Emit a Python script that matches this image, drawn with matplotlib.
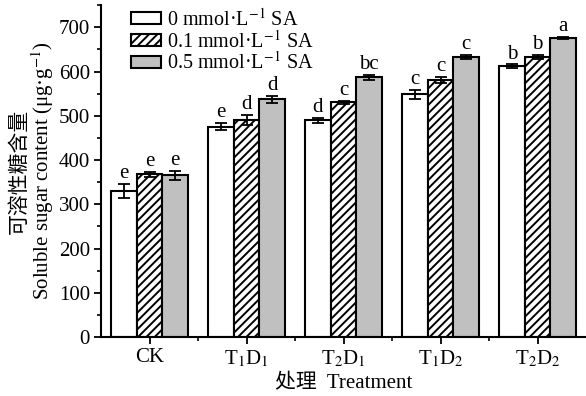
import numpy as np
import matplotlib.pyplot as plt

plt.rcParams['font.family'] = ['Liberation Serif', 'Noto Sans CJK SC']
plt.rcParams['mathtext.fontset'] = 'stix'
plt.rcParams['hatch.linewidth'] = 1.4

# 数据
groups = ["CK", "T$_1$D$_1$", "T$_2$D$_1$", "T$_1$D$_2$", "T$_2$D$_2$"]
series = ["0 mmol·L$^{-1}$ SA", "0.1 mmol·L$^{-1}$ SA", "0.5 mmol·L$^{-1}$ SA"]
sa0 = [330, 475, 490, 549, 612]
sa01 = [368, 490, 530, 580, 633]
sa05 = [365, 537, 587, 633, 676]
err0 = [16, 8, 6, 10, 4]
err01 = [6, 12, 4, 7, 5]
err05 = [11, 8, 6, 5, 2]
let0 = ["e", "e", "d", "c", "b"]
let01 = ["e", "d", "c", "c", "b"]
let05 = ["e", "d", "bc", "c", "a"]

fig = plt.figure(figsize=(5.86, 3.96), dpi=100)
ax = fig.add_axes([0.1724, 0.149, 0.8276, 0.838])

x = np.arange(len(groups))
w = 0.265
styles = [
    dict(color="white", hatch=None),
    dict(color="white", hatch="////"),
    dict(color="#c0c0c0", hatch=None),
]
for k, (vals, errs, lets) in enumerate(zip([sa0, sa01, sa05],
                                            [err0, err01, err05],
                                            [let0, let01, let05])):
    pos = x + (k - 1) * w
    ax.bar(pos, vals, w, facecolor=styles[k]["color"], hatch=styles[k]["hatch"],
           edgecolor="black", linewidth=1.5, label=series[k], zorder=2)
    ax.errorbar(pos, vals, yerr=errs, fmt="none", ecolor="black",
                elinewidth=1.3, capsize=4, capthick=1.3, zorder=3)
    for p, v, e, t in zip(pos, vals, errs, lets):
        ax.text(p, v + e + 2, t, ha="center", va="bottom", fontsize=15)

ax.set_xlim(-0.5, 4.5)
ax.set_ylim(0, 750)
ax.set_yticks(np.arange(0, 701, 100))
ax.set_yticks(np.arange(0, 751, 50), minor=True)
ax.set_xticks(x)
ax.set_xticks(x[:-1] + 0.5, minor=True)
ax.set_xticklabels(groups)
ax.tick_params(axis="both", which="major", labelsize=15, direction="out",
               length=5, width=1.3, pad=3)
ax.tick_params(axis="both", which="minor", direction="out", length=3, width=1.2)
for s in ["top", "right"]:
    ax.spines[s].set_visible(False)
for s in ["left", "bottom"]:
    ax.spines[s].set_linewidth(1.5)

ax.set_ylabel("可溶性糖含量\nSoluble sugar content (μg·g$^{-1}$)",
              fontsize=15, labelpad=2, linespacing=0.95)
ax.set_xlabel("处理  Treatment", fontsize=15, labelpad=4)

ax.legend(loc="upper left", bbox_to_anchor=(0.045, 1.015), frameon=False,
          fontsize=14.5, handlelength=1.5, handleheight=0.6,
          handletextpad=0.3, labelspacing=0.0, borderaxespad=0)

fig.savefig("out.png", dpi=100)
